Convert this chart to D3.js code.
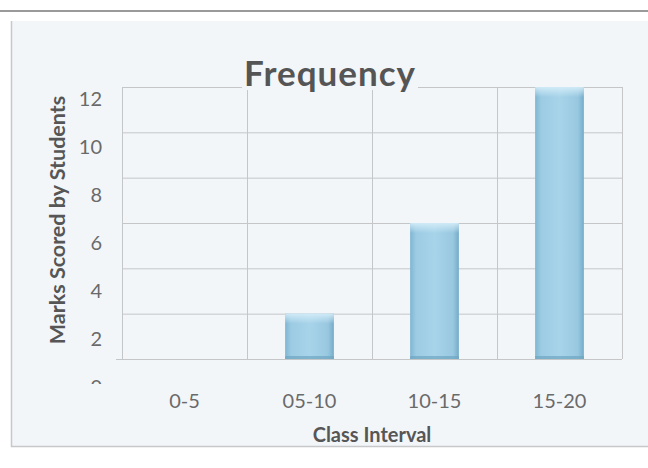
<!DOCTYPE html>
<html>
<head>
<meta charset="utf-8">
<script src="https://cdn.jsdelivr.net/npm/d3@7"></script>
<style>
	html, body { margin: 0; padding: 0; background: #ffffff; }
	.chart-container { width: 648px; height: 468px; }
	text { font-family: Lato, "Open Sans", sans-serif; }
	.grid line { stroke: #c4c6c8; stroke-width: 1; }
	.tick-label { fill: #6a6a6a; font-size: 20px; }
	.axis-title { fill: #565656; font-size: 20px; font-weight: bold; }
	.chart-title { fill: #555555; font-size: 35px; font-weight: bold; letter-spacing: 1px; }
</style>
</head>
<body>
<div class="chart-container"></div>
<script>
//---->DATA<-----//
const categories = ['0-5', '05-10', '10-15', '15-20'];
const frequency = [0, 2, 6, 12];
const yTicks = [0, 2, 4, 6, 8, 10, 12];

const titleText = 'Frequency',
	xTitle = 'Class Interval',
	yTitle = 'Marks Scored by Students';

//---->LAYOUT<-----//
const container = d3.select('.chart-container');
const outerW = 648,
	outerH = 468;

const plot = { left: 122, right: 622, top: 87, bottom: 359 };
const bg = '#f3f6f9';

let svg, x, y, yLabel;

function build() {
	const data = categories.map((c, i) => ({ cat: c, val: frequency[i] }));

	svg = container.append('svg')
		.attr('width', outerW)
		.attr('height', outerH);

	const defs = svg.append('defs');

	const grad = defs.append('linearGradient')
		.attr('id', 'barGrad')
		.attr('x1', 0).attr('x2', 1).attr('y1', 0).attr('y2', 0);
	grad.append('stop').attr('offset', '0%').attr('stop-color', '#7fb6d2');
	grad.append('stop').attr('offset', '12%').attr('stop-color', '#9ccbe3');
	grad.append('stop').attr('offset', '50%').attr('stop-color', '#a8d4ea');
	grad.append('stop').attr('offset', '88%').attr('stop-color', '#98c8e0');
	grad.append('stop').attr('offset', '100%').attr('stop-color', '#74abc8');

	const topGrad = defs.append('linearGradient')
		.attr('id', 'barTop')
		.attr('x1', 0).attr('x2', 0).attr('y1', 0).attr('y2', 1);
	topGrad.append('stop').attr('offset', '0%').attr('stop-color', '#d6eef9').attr('stop-opacity', 0.9);
	topGrad.append('stop').attr('offset', '100%').attr('stop-color', '#d6eef9').attr('stop-opacity', 0);

	defs.append('clipPath').attr('id', 'labelClip')
		.append('rect')
		.attr('x', 0).attr('y', 0)
		.attr('width', plot.left).attr('height', 384);

	// scanned page: top rule and chart frame (left and bottom edges show)
	svg.append('line')
		.attr('x1', 0).attr('x2', outerW)
		.attr('y1', 11).attr('y2', 11)
		.attr('stroke', '#9a9a9a')
		.attr('stroke-width', 2);

	svg.append('rect')
		.attr('x', 11).attr('y', 21)
		.attr('width', outerW).attr('height', 426)
		.attr('fill', bg);

	svg.append('path')
		.attr('d', `M11.5,21V446.5H${outerW}`)
		.attr('fill', 'none')
		.attr('stroke', '#c6c8ca')
		.attr('stroke-width', 1.5);

	// scales
	x = d3.scaleBand()
		.domain(categories)
		.range([plot.left, plot.right])
		.padding(0);

	y = d3.scaleLinear()
		.domain([0, 12])
		.range([plot.bottom, plot.top]);

	// labels sit on a slightly stretched scale in the scan
	yLabel = d3.scaleLinear()
		.domain([0, 12])
		.range([387, 99]);

	// gridlines
	const grid = svg.append('g').attr('class', 'grid');

	grid.selectAll('.h-line')
		.data(yTicks)
		.enter().append('line')
		.attr('class', 'h-line')
		.attr('x1', d => d === 0 ? plot.left - 6 : plot.left)
		.attr('x2', plot.right)
		.attr('y1', d => y(d) + 0.5)
		.attr('y2', d => y(d) + 0.5);

	const edges = categories.map(c => x(c)).concat([plot.right]);
	grid.selectAll('.v-line')
		.data(edges)
		.enter().append('line')
		.attr('class', 'v-line')
		.attr('x1', d => d + 0.5)
		.attr('x2', d => d + 0.5)
		.attr('y1', plot.top)
		.attr('y2', plot.bottom);

	// bars
	const barW = x.bandwidth() * 0.39;
	const bars = svg.append('g').attr('class', 'bars')
		.selectAll('g')
		.data(data.filter(d => d.val > 0))
		.enter().append('g');

	bars.append('rect')
		.attr('x', d => x(d.cat) + (x.bandwidth() - barW) / 2)
		.attr('y', d => y(d.val))
		.attr('width', barW)
		.attr('height', d => y(0) - y(d.val))
		.attr('fill', 'url(#barGrad)');

	bars.append('rect')
		.attr('x', d => x(d.cat) + (x.bandwidth() - barW) / 2)
		.attr('y', d => y(d.val))
		.attr('width', barW)
		.attr('height', 10)
		.attr('fill', 'url(#barTop)');

	bars.append('rect')
		.attr('x', d => x(d.cat) + (x.bandwidth() - barW) / 2)
		.attr('y', y(0) - 3)
		.attr('width', barW)
		.attr('height', 3)
		.attr('fill', '#6ea5c2')
		.attr('opacity', 0.7);

	// y tick labels
	svg.append('g')
		.attr('clip-path', 'url(#labelClip)')
		.selectAll('text')
		.data(yTicks)
		.enter().append('text')
		.attr('class', 'tick-label')
		.attr('x', 102)
		.attr('y', d => yLabel(d))
		.attr('dy', '0.35em')
		.attr('text-anchor', 'end')
		.text(d => d);

	// x tick labels
	svg.append('g')
		.selectAll('text')
		.data(categories)
		.enter().append('text')
		.attr('class', 'tick-label')
		.attr('x', d => x(d) + x.bandwidth() / 2)
		.attr('y', 408)
		.attr('text-anchor', 'middle')
		.text(d => d);

	// axis titles
	svg.append('text')
		.attr('class', 'axis-title')
		.attr('x', (plot.left + plot.right) / 2)
		.attr('y', 442)
		.attr('text-anchor', 'middle')
		.text(xTitle);

	svg.append('text')
		.attr('class', 'axis-title')
		.style('font-size', '21.5px')
		.attr('transform', `translate(65, 220) rotate(-90)`)
		.attr('text-anchor', 'middle')
		.text(yTitle);

	// chart title with a patch behind it over the top gridline
	const title = svg.append('g');
	const tText = title.append('text')
		.attr('class', 'chart-title')
		.attr('x', 330)
		.attr('y', 86)
		.attr('text-anchor', 'middle')
		.text(titleText);
	const bb = tText.node().getBBox();
	title.insert('rect', 'text')
		.attr('x', bb.x - 2)
		.attr('y', plot.top - 2)
		.attr('width', bb.width + 4)
		.attr('height', 5)
		.attr('fill', bg);
}

build();
</script>
</body>
</html>
